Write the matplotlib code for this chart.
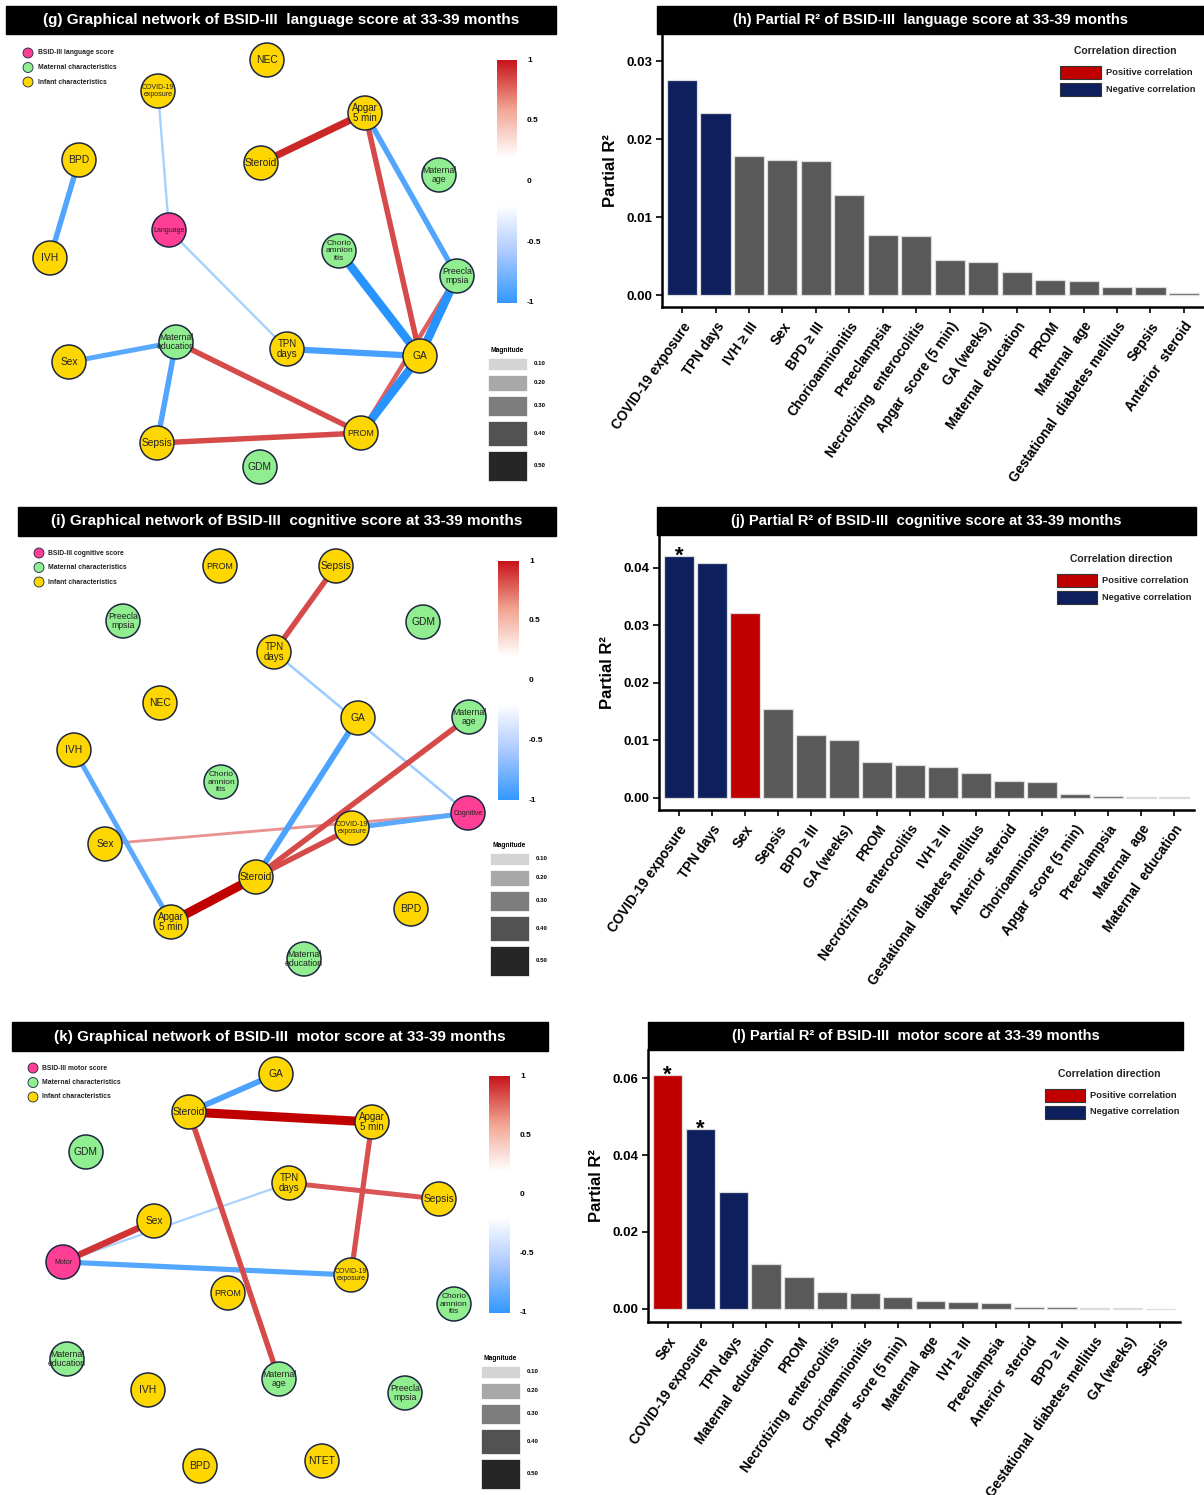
import matplotlib
matplotlib.use('Agg')
import matplotlib.pyplot as plt
import numpy as np
from matplotlib.patches import Circle, Rectangle
from matplotlib.colors import LinearSegmentedColormap

plt.rcParams['font.family'] = ['Liberation Sans', 'DejaVu Sans']

W, H = 1204, 1495

# ---------------- partial R2 bar data ----------------
LANG_VARS = ['COVID-19 exposure', 'TPN days', 'IVH ≥ III', 'Sex', 'BPD ≥ III', 'Chorioamnionitis',
             'Preeclampsia', 'Necrotizing  enterocolitis', 'Apgar  score (5 min)', 'GA (weeks)',
             'Maternal  education', 'PROM', 'Maternal  age', 'Gestational  diabetes mellitus',
             'Sepsis', 'Anterior  steroid']
LANG_R2 = [0.0276, 0.0234, 0.0179, 0.0174, 0.0172, 0.0128, 0.0077, 0.0076, 0.0045, 0.0043,
           0.0030, 0.0020, 0.0018, 0.0010, 0.0010, 0.0003]
LANG_DIR = ['neg', 'neg'] + ['ns'] * 14
LANG_SIG = []

COG_VARS = ['COVID-19 exposure', 'TPN days', 'Sex', 'Sepsis', 'BPD ≥ III', 'GA (weeks)', 'PROM',
            'Necrotizing  enterocolitis', 'IVH ≥ III', 'Gestational  diabetes mellitus',
            'Anterior  steroid', 'Chorioamnionitis', 'Apgar  score (5 min)', 'Preeclampsia',
            'Maternal  age', 'Maternal  education']
COG_R2 = [0.0420, 0.0408, 0.0321, 0.0154, 0.0110, 0.0100, 0.0063, 0.0057, 0.0053, 0.0044,
          0.0030, 0.0028, 0.0006, 0.0003, 0.0002, 0.0001]
COG_DIR = ['neg', 'neg', 'pos'] + ['ns'] * 13
COG_SIG = ['COVID-19 exposure']

MOT_VARS = ['Sex', 'COVID-19 exposure', 'TPN days', 'Maternal  education', 'PROM',
            'Necrotizing  enterocolitis', 'Chorioamnionitis', 'Apgar  score (5 min)', 'Maternal  age',
            'IVH ≥ III', 'Preeclampsia', 'Anterior  steroid', 'BPD ≥ III',
            'Gestational  diabetes mellitus', 'GA (weeks)', 'Sepsis']
MOT_R2 = [0.0607, 0.0468, 0.0304, 0.0118, 0.0083, 0.0045, 0.0041, 0.0031, 0.0020, 0.0018,
          0.0016, 0.0005, 0.0005, 0.0002, 0.0002, 0.0]
MOT_DIR = ['pos', 'neg', 'neg'] + ['ns'] * 13
MOT_SIG = ['Sex', 'COVID-19 exposure']

# ---------------- network data ----------------
LABELS = {'NEC': 'NEC', 'COVID': 'COVID-19\nexposure', 'Apgar': 'Apgar\n5 min', 'BPD': 'BPD',
          'Steroid': 'Steroid', 'MatAge': 'Maternal\nage', 'IVH': 'IVH',
          'Chorio': 'Chorio\namnion\nitis', 'Preec': 'Preecla\nmpsia', 'Sex': 'Sex',
          'MatEdu': 'Maternal\neducation', 'TPN': 'TPN\ndays', 'GA': 'GA', 'Sepsis': 'Sepsis',
          'PROM': 'PROM', 'GDM': 'GDM', 'NTET': 'NTET',
          'Language': 'Language', 'Cognitive': 'Cognitive', 'Motor': 'Motor'}
GROUP = {'MatAge': 'maternal', 'Chorio': 'maternal', 'Preec': 'maternal', 'MatEdu': 'maternal',
         'GDM': 'maternal', 'Language': 'outcome', 'Cognitive': 'outcome', 'Motor': 'outcome'}

G_NODES = ['NEC', 'COVID', 'Apgar', 'BPD', 'Steroid', 'MatAge', 'Language', 'IVH', 'Chorio',
           'Preec', 'Sex', 'MatEdu', 'TPN', 'GA', 'Sepsis', 'PROM', 'GDM']
G_X = [267, 158, 365, 79, 261, 439, 169, 50, 339, 457, 69, 176, 287, 420, 157, 361, 260]
G_Y = [60, 91, 113, 160, 163, 175, 230, 258, 251, 276, 362, 342, 349, 356, 443, 433, 467]
G_EDGES = [('COVID', 'Language', -0.18), ('Language', 'TPN', -0.18), ('BPD', 'IVH', -0.42),
           ('Steroid', 'Apgar', 0.55), ('Apgar', 'GA', 0.42), ('Apgar', 'Preec', -0.42),
           ('Preec', 'PROM', 0.35), ('TPN', 'GA', -0.48), ('Sex', 'MatEdu', -0.38),
           ('MatEdu', 'Sepsis', -0.42), ('MatEdu', 'PROM', 0.42), ('Sepsis', 'PROM', 0.42),
           ('Chorio', 'GA', -0.65), ('Preec', 'GA', -0.65), ('GA', 'PROM', -0.65)]

I_NODES = ['PROM', 'Sepsis', 'Preec', 'GDM', 'TPN', 'NEC', 'GA', 'MatAge', 'IVH', 'Chorio',
           'Cognitive', 'COVID', 'Sex', 'Steroid', 'Apgar', 'BPD', 'MatEdu']
I_X = [220, 336, 123, 423, 274, 160, 358, 469, 74, 221, 468, 352, 105, 256, 171, 411, 304]
I_Y = [566, 566, 621, 622, 652, 703, 718, 717, 750, 782, 813, 828, 844, 877, 922, 909, 959]
I_EDGES = [('Sepsis', 'TPN', 0.42), ('TPN', 'Cognitive', -0.2), ('MatAge', 'Steroid', 0.42),
           ('GA', 'Steroid', -0.45), ('COVID', 'Steroid', 0.42), ('COVID', 'Cognitive', -0.38),
           ('Sex', 'Cognitive', 0.22), ('IVH', 'Apgar', -0.38), ('Apgar', 'Steroid', 0.7)]

K_NODES = ['GA', 'Steroid', 'Apgar', 'GDM', 'TPN', 'Sepsis', 'Sex', 'Motor', 'COVID', 'PROM',
           'Chorio', 'MatEdu', 'IVH', 'MatAge', 'Preec', 'BPD', 'NTET']
K_X = [276, 189, 372, 86, 289, 439, 154, 63, 351, 228, 454, 67, 148, 279, 405, 200, 322]
K_Y = [1074, 1112, 1122, 1152, 1183, 1199, 1221, 1262, 1275, 1293, 1304, 1359, 1390, 1379,
       1393, 1466, 1461]
K_EDGES = [('Steroid', 'GA', -0.45), ('Steroid', 'Apgar', 0.7), ('Steroid', 'MatAge', 0.42),
           ('Apgar', 'COVID', 0.4), ('TPN', 'Sepsis', 0.38), ('Motor', 'Sex', 0.5),
           ('Motor', 'TPN', -0.17), ('Motor', 'COVID', -0.4)]

CBAR_TICKS = [1, 0.5, 0, -0.5, -1]
MAG_LEVELS = [0.10, 0.20, 0.30, 0.40, 0.50]

NODE_COL = {'infant': '#ffd700', 'maternal': '#90ee90', 'outcome': '#ff3e96'}
BAR_COL = {'neg': '#0d1f5c', 'pos': '#c00000', 'ns': '#595959'}

pos_cmap = LinearSegmentedColormap.from_list('pos', [(0, '#ffffff'), (0.2, '#f0b0b0'),
                                                     (0.55, '#d95353'), (1, '#c00000')])
neg_cmap = LinearSegmentedColormap.from_list('neg', [(0, '#ffffff'), (0.2, '#b5d8ff'),
                                                     (0.55, '#57a8ff'), (1, '#1e8fff')])
bar_cmap = LinearSegmentedColormap.from_list('cb', ['#3399ff', '#a9c8ff', '#ffffff', '#ffffff',
                                                   '#f2a491', '#c8141a'])

fig = plt.figure(figsize=(W / 100, H / 100), dpi=100)


def px_axes(x0, y0, x1, y1):
    return fig.add_axes([x0 / W, 1 - y1 / H, (x1 - x0) / W, (y1 - y0) / H])


def title_bar(x0, y0, x1, y1, text, size):
    fig.add_artist(Rectangle((x0 / W, 1 - y1 / H), (x1 - x0) / W, (y1 - y0) / H,
                             transform=fig.transFigure, color='black'))
    fig.text((x0 + x1) / 2 / W, 1 - (y0 + y1) / 2 / H, text, color='white', fontsize=size,
             fontweight='bold', ha='center', va='center')


def label_size(lab):
    if lab in ('COVID-19\nexposure', 'Language', 'Cognitive', 'Motor'):
        return 5.0
    if lab.count('\n') == 2:
        return 6.0
    if lab in ('Maternal\nage', 'Maternal\neducation', 'Preecla\nmpsia'):
        return 6.3
    if lab == 'PROM':
        return 6.5
    if lab in ('Apgar\n5 min', 'TPN\ndays'):
        return 7.0
    return 7.4


def network(box, nodes, xs, ys, edges, outcome_name, cbar, mag, legend_xy):
    x0, y0, x1, y1 = box
    ax = px_axes(x0, y0, x1, y1)
    ax.set_xlim(x0, x1)
    ax.set_ylim(y1, y0)
    ax.axis('off')
    pos = {n: (x, y) for n, x, y in zip(nodes, xs, ys)}
    for a, b, w in sorted(edges, key=lambda e: abs(e[2])):
        cm = pos_cmap if w > 0 else neg_cmap
        col = cm(min(abs(w) / 0.7, 1.0))
        ax.plot([pos[a][0], pos[b][0]], [pos[a][1], pos[b][1]], color=col,
                lw=abs(w) * 13 * 0.72, solid_capstyle='butt', zorder=1)
    for n in nodes:
        g = GROUP.get(n, 'infant')
        ax.add_patch(Circle(pos[n], 17, facecolor=NODE_COL[g], edgecolor='#1c2640', lw=1.1, zorder=3))
        lab = LABELS[n]
        ax.text(pos[n][0], pos[n][1], lab, fontsize=label_size(lab), ha='center', va='center',
                linespacing=1.1, color='#222222', zorder=4)
    # node legend
    lx, ly = legend_xy
    for i, (g, t) in enumerate([('outcome', 'BSID-III ' + outcome_name + ' score'),
                                ('maternal', 'Maternal characteristics'),
                                ('infant', 'Infant characteristics')]):
        ax.add_patch(Circle((lx, ly + i * 14.5), 5, facecolor=NODE_COL[g], edgecolor='#1c2640',
                            lw=0.6, zorder=3))
        ax.text(lx + 9.5, ly + i * 14.5, t, fontsize=4.9, fontweight='bold', va='center',
                color='#222222')
    # colour bar
    cx0, cy0, cx1, cy1 = cbar
    grad = np.linspace(1, -1, 256).reshape(-1, 1)
    ax.imshow(grad, cmap=bar_cmap, vmin=-1, vmax=1, extent=(cx0, cx1, cy1, cy0), aspect='auto',
              origin='upper', zorder=2)
    for t in CBAR_TICKS:
        yy = cy0 + (1 - t) / 2 * (cy1 - cy0)
        ax.text(cx1 + 10, yy, '%g' % t, fontsize=6, fontweight='bold', va='center', ha='left')
    # magnitude legend
    mx0, mx1, my = mag
    ax.text((mx0 + mx1) / 2, my, 'Magnitude', fontsize=4.8, fontweight='bold', ha='center',
            va='center')
    yy = my + 8
    for lv in MAG_LEVELS:
        h = 7 + 45 * lv
        grey = 1 - lv * 1.7
        ax.add_patch(Rectangle((mx0, yy), mx1 - mx0, h, facecolor=(grey, grey, grey),
                               edgecolor='white', lw=0.5, zorder=2))
        ax.text(mx1 + 7, yy + h / 2, '%.2f' % lv, fontsize=4.4, fontweight='bold', va='center')
        yy += h + 5
    return ax


def bars(box, cats, vals, dirs, sig, ylim, yticks, legend_pos):
    x0, y0, x1, y1 = box
    ax = px_axes(x0, y0, x1, y1)
    n = len(cats)
    x = np.arange(n)
    ax.bar(x, vals, width=0.9, color=[BAR_COL[d] for d in dirs], edgecolor='#dcdcdc', lw=0.9,
           zorder=2)
    for c in sig:
        i = cats.index(c)
        ax.annotate('*', (i, vals[i]), xytext=(0, -4), textcoords='offset points', ha='center',
                    va='baseline', fontsize=16, fontweight='bold', zorder=3)
    ax.set_xlim(-0.6, n - 0.4)
    ax.set_ylim(*ylim)
    ax.set_yticks(yticks)
    ax.set_yticklabels(['%.2f' % t for t in yticks], fontsize=9.5, fontweight='bold')
    ax.set_xticks(x)
    ax.set_xticklabels(cats, rotation=55, ha='right', va='top', rotation_mode='anchor',
                       fontsize=9.8, fontweight='bold')
    ax.tick_params(axis='both', length=4, width=1.2, colors='black', pad=3)
    ax.tick_params(axis='x', pad=5)
    for s in ('top', 'right'):
        ax.spines[s].set_visible(False)
    for s in ('left', 'bottom'):
        ax.spines[s].set_linewidth(1.8)
    ax.set_ylabel('Partial R²', fontsize=12, fontweight='bold', labelpad=6)
    # correlation direction legend (figure pixel positions)
    tx, ty, kx0, kx1, ky = legend_pos
    fig.text(tx / W, 1 - ty / H, 'Correlation direction', fontsize=7.5, fontweight='bold',
             ha='center', va='center', color='#222222')
    for j, (d, t) in enumerate([('pos', 'Positive correlation'), ('neg', 'Negative correlation')]):
        yk = ky + j * 16.5
        fig.add_artist(Rectangle((kx0 / W, 1 - (yk + 13) / H), (kx1 - kx0) / W, 13 / H,
                                 transform=fig.transFigure, facecolor=BAR_COL[d],
                                 edgecolor='#333333', lw=0.8))
        fig.text((kx1 + 5) / W, 1 - (yk + 6.5) / H, t, fontsize=6.7, fontweight='bold',
                 va='center', color='#222222')
    return ax


network((0, 34, 575, 492), G_NODES, G_X, G_Y, G_EDGES, 'language', (497, 60, 517, 303),
        (488, 527, 350), (28, 53))
network((0, 536, 575, 992), I_NODES, I_X, I_Y, I_EDGES, 'cognitive', (498, 561, 519, 800),
        (490, 529, 845), (39, 553))
network((0, 1051, 575, 1495), K_NODES, K_X, K_Y, K_EDGES, 'motor', (489, 1076, 510, 1313),
        (481, 520, 1358), (33, 1068))

title_bar(6, 6, 556, 34, '(g) Graphical network of BSID-III  language score at 33-39 months', 11)
title_bar(18, 507, 556, 536, '(i) Graphical network of BSID-III  cognitive score at 33-39 months', 11)
title_bar(12, 1022, 548, 1051, '(k) Graphical network of BSID-III  motor score at 33-39 months', 11)

bars((662, 34, 1204, 307), LANG_VARS, LANG_R2, LANG_DIR, LANG_SIG, (-0.0015, 0.0335),
     [0.0, 0.01, 0.02, 0.03], (1125, 51, 1060, 1101, 66))
bars((659, 535, 1194, 810), COG_VARS, COG_R2, COG_DIR, COG_SIG, (-0.0021, 0.0457),
     [0.0, 0.01, 0.02, 0.03, 0.04], (1121, 559, 1057, 1097, 574))
bars((648, 1050, 1180, 1322), MOT_VARS, MOT_R2, MOT_DIR, MOT_SIG, (-0.0034, 0.0673),
     [0.0, 0.02, 0.04, 0.06], (1109, 1074, 1045, 1085, 1089))

title_bar(657, 6, 1204, 34, '(h) Partial R² of BSID-III  language score at 33-39 months', 10.6)
title_bar(657, 507, 1196, 535, '(j) Partial R² of BSID-III  cognitive score at 33-39 months', 10.6)
title_bar(648, 1022, 1183, 1050, '(l) Partial R² of BSID-III  motor score at 33-39 months', 10.6)

fig.savefig('out.png', dpi=100)
